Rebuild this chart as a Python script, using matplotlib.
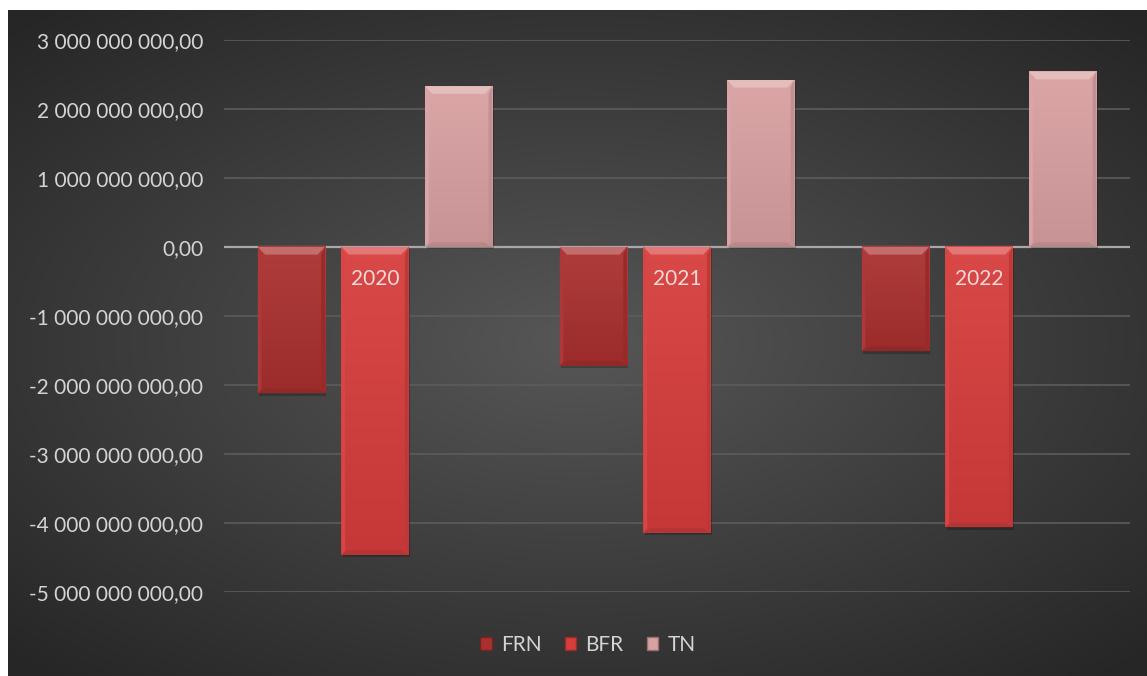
"""
Bar chart: FRN / BFR / TN by year, dark Excel-like style.
"""

import numpy as np
import matplotlib
matplotlib.use('Agg')
import matplotlib.pyplot as plt
from matplotlib.patches import Polygon, Rectangle
from matplotlib.ticker import FuncFormatter

years = ["2020", "2021", "2022"]
series_names = ["FRN", "BFR", "TN"]
frn = [-2.12e9, -1.72e9, -1.51e9]
bfr = [-4.46e9, -4.14e9, -4.06e9]
tn = [2.33e9, 2.42e9, 2.54e9]
y_ticks = [3e9, 2e9, 1e9, 0, -1e9, -2e9, -3e9, -4e9, -5e9]

colors = ["#a9302f", "#d63d3c", "#d9a0a1"]
text_col = "#d4d4d4"
plt.rcParams['font.family'] = ['Lato', 'DejaVu Sans']


def shade(c, f):
    rgb = np.array(matplotlib.colors.to_rgb(c))
    if f > 0:
        rgb = rgb + (1 - rgb) * f
    else:
        rgb = rgb * (1 + f)
    return tuple(np.clip(rgb, 0, 1))


def bevel_bar(ax, x, w, v, color, dx=0.024, dy=0.11e9):
    """Draw a bar with a bevelled look (lit top, faint darker sides)."""
    x0, x1 = x - w / 2, x + w / 2
    y0, y1 = min(0, v), max(0, v)
    # soft shadow
    ax.add_patch(Rectangle((x0 + 0.005, y0 - 0.035e9), w, y1 - y0,
                           color="black", alpha=0.22, zorder=3, lw=0))
    # face with a gentle vertical gradient (lighter at the top)
    grad = np.linspace(0, 1, 64).reshape(-1, 1)
    top, bot = np.array(shade(color, 0.06)), np.array(shade(color, -0.08))
    img = top + (bot - top) * grad[..., None]
    ax.imshow(img, extent=[x0, x1, y0, y1], aspect="auto", zorder=4,
              interpolation="bilinear", origin="upper")
    faces = [
        ([(x0, y1), (x1, y1), (x1 - dx, y1 - dy), (x0 + dx, y1 - dy)], 0.3),
        ([(x0, y0), (x1, y0), (x1 - dx, y0 + dy * 0.6), (x0 + dx, y0 + dy * 0.6)], -0.15),
        ([(x0, y0), (x0, y1), (x0 + dx * 0.5, y1 - dy), (x0 + dx * 0.5, y0 + dy * 0.6)], 0.04),
        ([(x1, y0), (x1, y1), (x1 - dx * 0.5, y1 - dy), (x1 - dx * 0.5, y0 + dy * 0.6)], -0.1),
    ]
    for pts, f in faces:
        ax.add_patch(Polygon(pts, closed=True, color=shade(color, f), zorder=5, lw=0))


fig = plt.figure(figsize=(11.47, 6.76), dpi=100)
fig.patch.set_facecolor("white")

# radial gradient background (dark frame inside a thin white border)
bg = fig.add_axes([8 / 1147, 0, 1 - 8 / 1147, 1 - 10 / 676])
yy, xx = np.mgrid[0:1:300j, 0:1:500j]
r = np.sqrt(((xx - 0.5) / 0.75) ** 2 + ((yy - 0.5) / 0.7) ** 2)
g = np.clip(0.34 - 0.2 * r, 0.15, 0.34)
bg.imshow(np.dstack([g, g, g]), aspect="auto", extent=[0, 1, 0, 1])
bg.axis("off")

ax = fig.add_axes([224 / 1147, 1 - 592 / 676, (1130 - 224) / 1147, (592 - 40) / 676])
ax.patch.set_alpha(0)

x = np.arange(len(years))
w = 0.222
off = 0.277
for i, (vals, c) in enumerate(zip([frn, bfr, tn], colors)):
    for xi, v in zip(x, vals):
        bevel_bar(ax, xi + (i - 1) * off, w, v, c)

ax.set_xlim(-0.5, 2.5)
ax.set_ylim(-5e9, 3e9)
ax.set_yticks(y_ticks)
ax.yaxis.set_major_formatter(FuncFormatter(
    lambda v, p: f"{v:,.2f}".replace(",", " ").replace(".", ",")))
ax.tick_params(axis="y", length=0, pad=15, labelsize=15, labelcolor=text_col)
ax.set_xticks([])
ax.grid(axis="y", color="#5c5c5c", lw=1.2, zorder=1)
ax.axhline(0, color="#a8a8a8", lw=1.6, zorder=2)
for s in ax.spines.values():
    s.set_visible(False)

for xi, yr in zip(x, years):
    ax.annotate(yr, (xi, 0), xytext=(0, -23), textcoords="offset points",
                ha="center", va="center", fontsize=15, color="#f0dada", zorder=7)

# legend
handles = [Rectangle((0, 0), 1, 1, facecolor=c, edgecolor=shade(c, -0.3), lw=1)
           for c in colors]
fig.legend(handles, series_names, loc="center", bbox_to_anchor=(588 / 1147, 1 - 645 / 676),
           ncol=3, frameon=False, fontsize=15, handlelength=0.55, handleheight=0.55,
           handletextpad=0.45, columnspacing=1.1, labelcolor=text_col)

fig.savefig("out.png", dpi=100)
